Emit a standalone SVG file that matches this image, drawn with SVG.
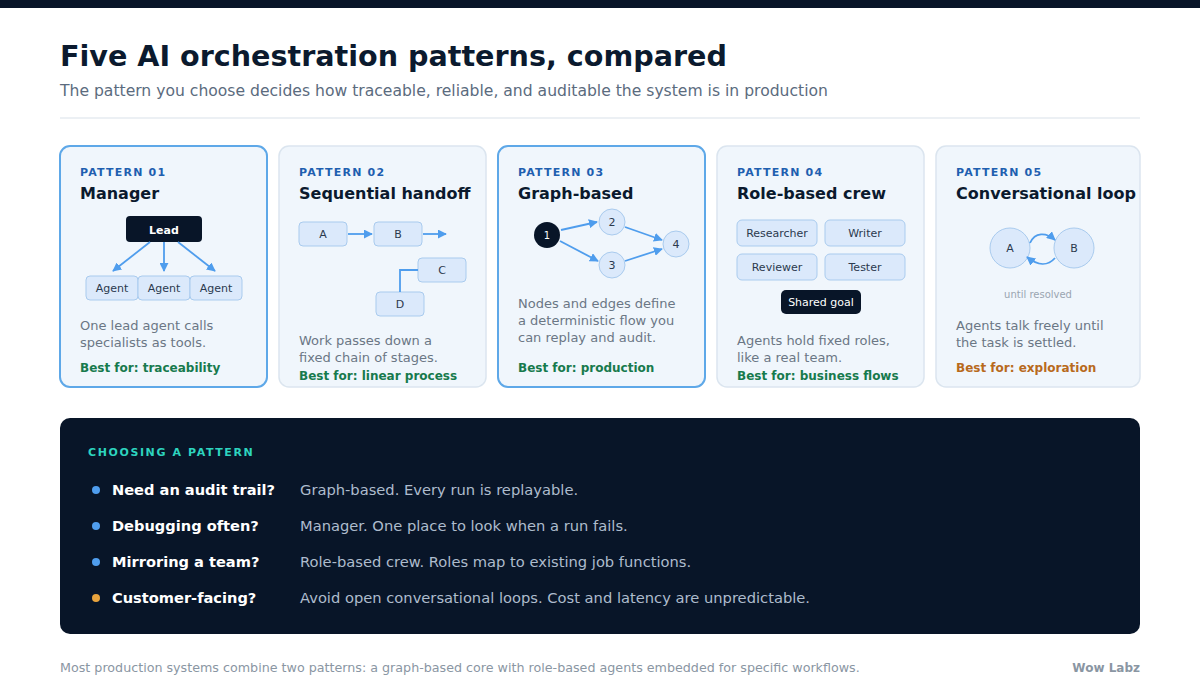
<svg xmlns="http://www.w3.org/2000/svg" width="1200" height="700" viewBox="0 0 1200 700">
<style>
text{font-family:"DejaVu Sans",sans-serif}
.card{fill:#f0f6fc;stroke:#dbe5ef;stroke-width:1.5}
.card.hl{stroke:#5ea8e8;stroke-width:2}
.pl{font-size:11px;font-weight:bold;fill:#1f5fb0;letter-spacing:1.2px}
.ct{font-size:16px;font-weight:bold;fill:#0b1a2e}
.desc{font-size:13px;fill:#6b7785}
.best{font-size:12px;font-weight:bold;fill:#177a4d}
.nb{fill:#dbe9fb;stroke:#a9cbee;stroke-width:1}
.nt{font-size:11px;fill:#2b3a4e;text-anchor:middle}
.dk{fill:#081528}
.ar{stroke:#4f9ded;stroke-width:1.8;fill:none;marker-end:url(#ah)}
.q{font-size:14.6px;font-weight:bold;fill:#ffffff}
.a{font-size:14.7px;fill:#aebccd}
</style>
<defs><marker id="ah" viewBox="0 0 10 10" refX="9" refY="5" markerWidth="5" markerHeight="5" orient="auto"><path d="M0,0L10,5L0,10z" fill="#4f9ded"/></marker></defs>
<rect x="0" y="0" width="1200" height="700" fill="#ffffff"/>
<rect x="0" y="0" width="1200" height="8" fill="#081528"/>
<text x="60" y="66" font-size="28.6" font-weight="bold" fill="#0b1a2e">Five AI orchestration patterns, compared</text>
<text x="60" y="96" font-size="15.6" fill="#5b6b7e">The pattern you choose decides how traceable, reliable, and auditable the system is in production</text>
<line x1="60" y1="118" x2="1140" y2="118" stroke="#e6ebf0" stroke-width="1.5"/>

<g id="card1">
<rect class="card hl" x="60" y="146" width="207" height="241" rx="10"/>
<text class="pl" x="80" y="176">PATTERN 01</text>
<text class="ct" x="80" y="199">Manager</text>
<rect class="dk" x="126" y="216" width="76" height="26" rx="4"/>
<text x="164" y="234" font-size="11" font-weight="bold" fill="#fff" text-anchor="middle">Lead</text>
<rect class="nb" x="86" y="276" width="52" height="24" rx="4"/><text class="nt" x="112" y="292">Agent</text>
<rect class="nb" x="138" y="276" width="52" height="24" rx="4"/><text class="nt" x="164" y="292">Agent</text>
<rect class="nb" x="190" y="276" width="52" height="24" rx="4"/><text class="nt" x="216" y="292">Agent</text>
<text class="desc" x="80" y="330">One lead agent calls</text>
<text class="desc" x="80" y="347">specialists as tools.</text>
<text class="best" x="80" y="372">Best for: traceability</text>
</g>
<g id="card2">
<rect class="card" x="279" y="146" width="207" height="241" rx="10"/>
<text class="pl" x="299" y="176">PATTERN 02</text>
<text class="ct" x="299" y="199">Sequential handoff</text>
<rect class="nb" x="299" y="222" width="48" height="24" rx="4"/><text class="nt" x="323" y="238">A</text>
<rect class="nb" x="374" y="222" width="48" height="24" rx="4"/><text class="nt" x="398" y="238">B</text>
<rect class="nb" x="418" y="258" width="48" height="24" rx="4"/><text class="nt" x="442" y="274">C</text>
<rect class="nb" x="376" y="292" width="48" height="24" rx="4"/><text class="nt" x="400" y="308">D</text>
<text class="desc" x="299" y="345">Work passes down a</text>
<text class="desc" x="299" y="362">fixed chain of stages.</text>
<text class="best" x="299" y="380">Best for: linear process</text>
</g>
<g id="card3">
<rect class="card hl" x="498" y="146" width="207" height="241" rx="10"/>
<text class="pl" x="518" y="176">PATTERN 03</text>
<text class="ct" x="518" y="199">Graph-based</text>
<circle cx="547" cy="235" r="13" class="dk"/><text x="547" y="239" font-size="10" fill="#fff" text-anchor="middle">1</text>
<circle cx="612" cy="222" r="13" class="nb"/><text class="nt" x="612" y="226" font-size="10">2</text>
<circle cx="612" cy="265" r="13" class="nb"/><text class="nt" x="612" y="269" font-size="10">3</text>
<circle cx="676" cy="244" r="13" class="nb"/><text class="nt" x="676" y="248" font-size="10">4</text>
<text class="desc" x="518" y="308">Nodes and edges define</text>
<text class="desc" x="518" y="325">a deterministic flow you</text>
<text class="desc" x="518" y="342">can replay and audit.</text>
<text class="best" x="518" y="372">Best for: production</text>
</g>
<g id="card4">
<rect class="card" x="717" y="146" width="207" height="241" rx="10"/>
<text class="pl" x="737" y="176">PATTERN 04</text>
<text class="ct" x="737" y="199">Role-based crew</text>
<rect class="nb" x="737" y="220" width="80" height="26" rx="5"/><text class="nt" x="777" y="237">Researcher</text>
<rect class="nb" x="825" y="220" width="80" height="26" rx="5"/><text class="nt" x="865" y="237">Writer</text>
<rect class="nb" x="737" y="254" width="80" height="26" rx="5"/><text class="nt" x="777" y="271">Reviewer</text>
<rect class="nb" x="825" y="254" width="80" height="26" rx="5"/><text class="nt" x="865" y="271">Tester</text>
<rect class="dk" x="781" y="290" width="80" height="24" rx="5"/><text x="821" y="306" font-size="11" fill="#fff" text-anchor="middle">Shared goal</text>
<text class="desc" x="737" y="345">Agents hold fixed roles,</text>
<text class="desc" x="737" y="362">like a real team.</text>
<text class="best" x="737" y="380">Best for: business flows</text>
</g>
<g id="card5">
<rect class="card" x="936" y="146" width="204" height="241" rx="10"/>
<text class="pl" x="956" y="176">PATTERN 05</text>
<text class="ct" x="956" y="199">Conversational loop</text>
<circle cx="1010" cy="248" r="20" class="nb"/><text class="nt" x="1010" y="252">A</text>
<circle cx="1074" cy="248" r="20" class="nb"/><text class="nt" x="1074" y="252">B</text>
<text x="1038" y="298" font-size="10" fill="#9aa5b1" text-anchor="middle">until resolved</text>
<text class="desc" x="956" y="330">Agents talk freely until</text>
<text class="desc" x="956" y="347">the task is settled.</text>
<text class="best" x="956" y="372" style="fill:#b86a1c">Best for: exploration</text>
</g>
<g id="connectors">
<path class="ar" d="M150,242L113,271"/>
<path class="ar" d="M164,242L164,271"/>
<path class="ar" d="M178,242L215,271"/>
<path class="ar" d="M348,234L372,234"/>
<path class="ar" d="M423,234L446,234"/>
<path d="M418,270L400,270L400,292" stroke="#4f9ded" stroke-width="1.8" fill="none"/>
<path class="ar" d="M561,230L597,222"/>
<path class="ar" d="M560,241L598,261"/>
<path class="ar" d="M625,227L662,240"/>
<path class="ar" d="M625,261L662,249"/>
<path class="ar" d="M1030,243C1035,232 1046,232 1055,240"/>
<path class="ar" d="M1055,258C1048,266 1038,266 1027,257"/>
</g>

<g id="panel">
<rect x="60" y="418" width="1080" height="216" rx="10" fill="#081528"/>
<text x="88" y="456" font-size="11" font-weight="bold" fill="#2dd4bf" letter-spacing="1.6">CHOOSING A PATTERN</text>
<circle cx="96" cy="490" r="4" fill="#4f9ded"/><text class="q" x="112" y="495">Need an audit trail?</text><text class="a" x="300" y="495">Graph-based. Every run is replayable.</text>
<circle cx="96" cy="526" r="4" fill="#4f9ded"/><text class="q" x="112" y="531">Debugging often?</text><text class="a" x="300" y="531">Manager. One place to look when a run fails.</text>
<circle cx="96" cy="562" r="4" fill="#4f9ded"/><text class="q" x="112" y="567">Mirroring a team?</text><text class="a" x="300" y="567">Role-based crew. Roles map to existing job functions.</text>
<circle cx="96" cy="598" r="4" fill="#e8a33d"/><text class="q" x="112" y="603">Customer-facing?</text><text class="a" x="300" y="603">Avoid open conversational loops. Cost and latency are unpredictable.</text>
</g>
<text x="60" y="672" font-size="12.7" fill="#8a96a3">Most production systems combine two patterns: a graph-based core with role-based agents embedded for specific workflows.</text>
<text x="1140" y="672" font-size="12" font-weight="bold" fill="#8a96a3" text-anchor="end">Wow Labz</text>
</svg>
